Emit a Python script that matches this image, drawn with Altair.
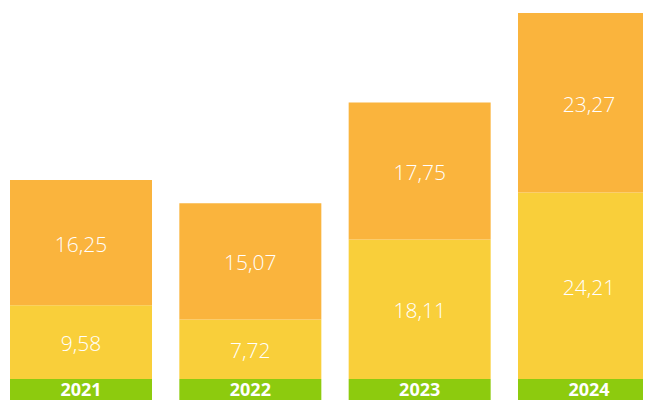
import altair as alt
import pandas as pd

years = ["2021", "2022", "2023", "2024"]
bottom_vals = [9.58, 7.72, 18.11, 24.21]
top_vals = [16.25, 15.07, 17.75, 23.27]

ORANGE = "#FAB43D"
YELLOW = "#F9CF3A"
GREEN = "#8DCB0E"

rows = []
for y, b, t in zip(years, bottom_vals, top_vals):
    rows.append({"year": y, "seg": "bottom", "start": 0.0, "end": b, "val": b,
                 "label": f"{b:.2f}".replace(".", ",")})
    rows.append({"year": y, "seg": "top", "start": b, "end": b + t, "val": t,
                 "label": f"{t:.2f}".replace(".", ",")})
df = pd.DataFrame(rows)
df["mid"] = (df["start"] + df["end"]) / 2
yr = pd.DataFrame({"year": years, "g0": [0.0] * 4, "g1": [-3.0] * 4, "ly": [-2.21] * 4})

xscale = alt.Scale(domain=years, range=[2, 652], paddingInner=0.1614, paddingOuter=0)
yscale = alt.Scale(domain=[-2.724, 48.13], range=[392, 0], nice=False, zero=False)
X = alt.X("year:N", scale=xscale, axis=None)

bars = alt.Chart(df).mark_bar(clip=True).encode(
    x=X,
    y=alt.Y("start:Q", scale=yscale, axis=None),
    y2="end:Q",
    color=alt.Color("seg:N", scale=alt.Scale(domain=["bottom", "top"], range=[YELLOW, ORANGE]), legend=None),
)

vals = alt.Chart(df).mark_text(color="white", font="Open Sans", fontWeight=300, fontSize=21,
                               baseline="middle", dy=3).encode(
    x=X, y=alt.Y("mid:Q", scale=yscale, axis=None), text="label:N"
)

green = alt.Chart(yr).mark_bar(color=GREEN, clip=True).encode(
    x=X, y=alt.Y("g0:Q", scale=yscale, axis=None), y2="g1:Q"
)
ylabels = alt.Chart(yr).mark_text(color="white", font="Open Sans", fontWeight="bold", fontSize=18,
                                  baseline="alphabetic").encode(
    x=X, y=alt.Y("ly:Q", scale=yscale, axis=None), text="year:N"
)

chart = alt.layer(bars, vals, green, ylabels).properties(
    width=635, height=392, padding=0, autosize=alt.AutoSizeParams(type="none")
).configure_view(stroke=None)

chart.save("out.html", embed_options={"renderer": "svg", "actions": False})
